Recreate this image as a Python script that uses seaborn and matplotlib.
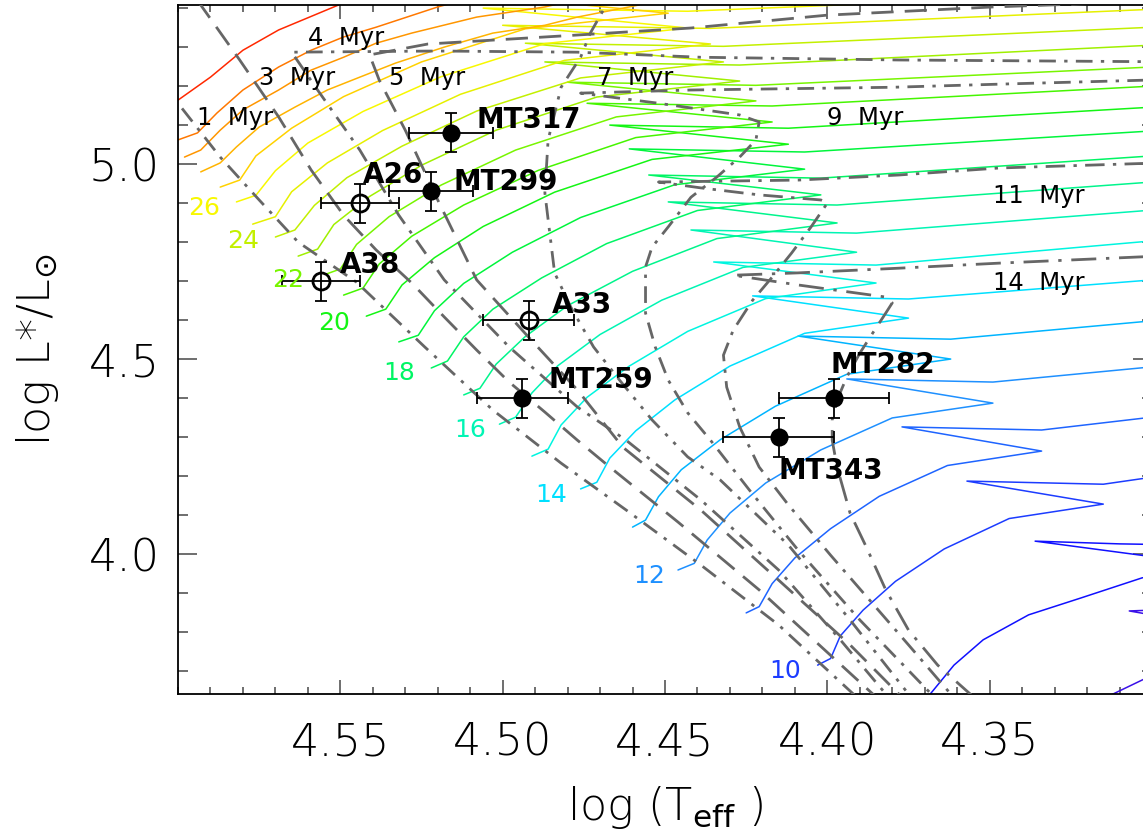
import matplotlib
matplotlib.use("Agg")
import matplotlib.pyplot as plt
from matplotlib.ticker import MultipleLocator, FixedLocator
import pandas as pd
import seaborn as sns

# ---- evolutionary tracks: log Teff / log L (ZAMS -> end of MS tip -> hook tip -> crossing)
trk08_t = [4.316, 4.303, 4.270, 4.307, 4.280]
trk08_l = [3.625, 3.677, 3.800, 3.854, 3.862]
trk09_t = [4.370, 4.368, 4.361, 4.352, 4.338, 4.322, 4.303, 4.270, 4.336, 4.310, 4.280]
trk09_l = [3.626, 3.644, 3.715, 3.780, 3.844, 3.887, 3.939, 3.960, 4.033, 4.026, 4.022]
trk10_t = [4.403, 4.399, 4.396, 4.389, 4.379, 4.364, 4.344, 4.315, 4.357, 4.315, 4.300]
trk10_l = [3.715, 3.732, 3.790, 3.856, 3.930, 4.013, 4.091, 4.128, 4.187, 4.179, 4.197]
trk11_t = [4.425, 4.421, 4.417, 4.410, 4.399, 4.384, 4.363, 4.334, 4.377, 4.334, 4.300]
trk11_l = [3.849, 3.865, 3.924, 3.990, 4.065, 4.148, 4.227, 4.264, 4.326, 4.318, 4.351]
trk12_t = [4.446, 4.441, 4.437, 4.430, 4.419, 4.402, 4.380, 4.349, 4.394, 4.349, 4.300]
trk12_l = [3.959, 3.976, 4.036, 4.105, 4.182, 4.267, 4.349, 4.387, 4.449, 4.441, 4.480]
trk13_t = [4.460, 4.456, 4.452, 4.445, 4.433, 4.416, 4.394, 4.362, 4.409, 4.362, 4.300]
trk13_l = [4.069, 4.087, 4.147, 4.216, 4.293, 4.379, 4.461, 4.500, 4.559, 4.551, 4.598]
trk14_t = [4.476, 4.471, 4.467, 4.459, 4.447, 4.430, 4.407, 4.375, 4.423, 4.375, 4.300]
trk14_l = [4.167, 4.184, 4.246, 4.316, 4.395, 4.482, 4.566, 4.605, 4.662, 4.654, 4.703]
trk15_t = [4.491, 4.486, 4.482, 4.474, 4.461, 4.443, 4.419, 4.385, 4.435, 4.385, 4.300]
trk15_l = [4.251, 4.269, 4.331, 4.402, 4.482, 4.571, 4.655, 4.695, 4.749, 4.741, 4.803]
trk16_t = [4.501, 4.496, 4.491, 4.483, 4.470, 4.451, 4.426, 4.391, 4.442, 4.391, 4.300]
trk16_l = [4.333, 4.351, 4.413, 4.483, 4.563, 4.651, 4.735, 4.774, 4.831, 4.823, 4.882]
trk17_t = [4.512, 4.507, 4.502, 4.493, 4.480, 4.460, 4.434, 4.397, 4.449, 4.397, 4.300]
trk17_l = [4.408, 4.425, 4.487, 4.558, 4.637, 4.725, 4.809, 4.849, 4.903, 4.895, 4.954]
trk18_t = [4.522, 4.517, 4.512, 4.503, 4.488, 4.468, 4.440, 4.402, 4.455, 4.402, 4.300]
trk18_l = [4.477, 4.495, 4.557, 4.628, 4.708, 4.796, 4.881, 4.921, 4.972, 4.964, 5.021]
trk19_t = [4.532, 4.526, 4.521, 4.512, 4.497, 4.476, 4.447, 4.407, 4.461, 4.407, 4.300]
trk19_l = [4.544, 4.561, 4.624, 4.694, 4.774, 4.863, 4.947, 4.987, 5.039, 5.031, 5.085]
trk20_t = [4.542, 4.536, 4.531, 4.521, 4.506, 4.484, 4.454, 4.412, 4.467, 4.412, 4.300]
trk20_l = [4.610, 4.628, 4.690, 4.760, 4.840, 4.928, 5.012, 5.051, 5.100, 5.092, 5.146]
trk21_t = [4.549, 4.543, 4.538, 4.528, 4.512, 4.489, 4.459, 4.417, 4.474, 4.417, 4.300]
trk21_l = [4.664, 4.682, 4.744, 4.815, 4.895, 4.984, 5.068, 5.108, 5.156, 5.149, 5.200]
trk22_t = [4.556, 4.550, 4.545, 4.535, 4.519, 4.496, 4.465, 4.422, 4.480, 4.422, 4.300]
trk22_l = [4.713, 4.731, 4.794, 4.865, 4.946, 5.036, 5.121, 5.162, 5.210, 5.202, 5.249]
trk23_t = [4.563, 4.557, 4.552, 4.541, 4.525, 4.502, 4.471, 4.427, 4.487, 4.427, 4.300]
trk23_l = [4.764, 4.782, 4.845, 4.917, 4.997, 5.087, 5.172, 5.213, 5.262, 5.254, 5.305]
trk24_t = [4.570, 4.564, 4.558, 4.548, 4.531, 4.508, 4.476, 4.432, 4.493, 4.432, 4.300]
trk24_l = [4.813, 4.831, 4.894, 4.965, 5.046, 5.136, 5.221, 5.262, 5.310, 5.302, 5.351]
trk25_t = [4.577, 4.570, 4.565, 4.554, 4.537, 4.513, 4.481, 4.436, 4.500, 4.436, 4.300]
trk25_l = [4.846, 4.865, 4.929, 5.003, 5.086, 5.179, 5.266, 5.308, 5.356, 5.348, 5.397]
trk26_t = [4.582, 4.576, 4.570, 4.560, 4.543, 4.519, 4.487, 4.443, 4.506, 4.443, 4.300]
trk26_l = [4.903, 4.920, 4.983, 5.054, 5.135, 5.224, 5.309, 5.349, 5.400, 5.392, 5.441]
trk28_t = [4.587, 4.581, 4.576, 4.565, 4.549, 4.525, 4.493, 4.449, 4.512, 4.449, 4.300]
trk28_l = [4.941, 4.959, 5.021, 5.092, 5.173, 5.262, 5.347, 5.387, 5.438, 5.430, 5.472]
trk30_t = [4.593, 4.587, 4.582, 4.575, 4.564, 4.554, 4.544, 4.533, 4.518, 4.503, 4.487, 4.477, 4.458, 4.516]
trk30_l = [4.980, 5.003, 5.044, 5.095, 5.146, 5.190, 5.223, 5.259, 5.300, 5.336, 5.356, 5.377, 5.408, 5.451]
trk32_t = [4.598, 4.593, 4.587, 4.580, 4.569, 4.559, 4.549, 4.539, 4.528, 4.508, 4.487, 4.464]
trk32_l = [5.018, 5.036, 5.087, 5.139, 5.190, 5.241, 5.274, 5.310, 5.336, 5.377, 5.403, 5.446]
trk35_t = [4.600, 4.594, 4.588, 4.580, 4.569, 4.559, 4.549, 4.539, 4.520, 4.495]
trk35_l = [5.062, 5.080, 5.131, 5.190, 5.249, 5.292, 5.326, 5.351, 5.403, 5.459]
trk40_t = [4.606, 4.600, 4.590, 4.580, 4.569, 4.552, 4.541]
trk40_l = [5.145, 5.164, 5.223, 5.292, 5.344, 5.403, 5.441]

track_colors = {8: "#3a10e8", 9: "#1010ff", 10: "#1c3cff", 11: "#1e64ff", 12: "#1e90ff",
                13: "#00b4ff", 14: "#00e0ff", 15: "#00f5e0", 16: "#00f5b4", 17: "#00f58c",
                18: "#00f564", 19: "#00f53c", 20: "#14f514", 21: "#46f500", 22: "#78f500",
                23: "#a0f000", 24: "#c3f000", 25: "#e6f000", 26: "#f8f800", 28: "#ffd200",
                30: "#ffb400", 32: "#ff9600", 35: "#ff7800", 40: "#ff2800"}

# mass labels at the ZAMS
mass_lab = [26, 24, 22, 20, 18, 16, 14, 12, 10]
mass_lab_t = [4.592, 4.580, 4.566, 4.552, 4.532, 4.510, 4.485, 4.455, 4.413]
mass_lab_l = [4.869, 4.785, 4.685, 4.574, 4.446, 4.300, 4.133, 3.926, 3.682]

# ---- isochrones
iso1_t = [4.606, 4.600, 4.587, 4.575, 4.563, 4.545, 4.524, 4.503, 4.482, 4.462, 4.439, 4.415, 4.392, 4.388]
iso1_l = [5.215, 5.156, 5.018, 4.908, 4.800, 4.697, 4.531, 4.369, 4.233, 4.113, 3.972, 3.818, 3.641, 3.600]
iso3_t = [4.595, 4.593, 4.581, 4.569, 4.559, 4.549, 4.539, 4.528, 4.518, 4.508, 4.498, 4.487, 4.477, 4.467, 4.446, 4.421, 4.386, 4.380]
iso3_l = [5.446, 5.408, 5.267, 5.121, 4.985, 4.869, 4.780, 4.695, 4.608, 4.523, 4.441, 4.364, 4.292, 4.223, 4.082, 3.908, 3.641, 3.600]
iso4_t = [4.378, 4.382, 4.396, 4.415, 4.439, 4.462, 4.477, 4.498, 4.518, 4.532, 4.544, 4.557, 4.565, 4.520, 4.477, 4.439, 4.378, 4.290]
iso4_l = [3.600, 3.641, 3.780, 3.959, 4.139, 4.292, 4.377, 4.531, 4.703, 4.869, 5.036, 5.190, 5.287, 5.290, 5.287, 5.274, 5.267, 5.262]
iso5_t = [4.374, 4.378, 4.393, 4.415, 4.439, 4.463, 4.477, 4.492, 4.508, 4.520, 4.530, 4.538, 4.541, 4.523, 4.477, 4.442, 4.400, 4.349, 4.290]
iso5_l = [3.600, 3.641, 3.767, 3.933, 4.113, 4.274, 4.421, 4.556, 4.703, 4.908, 5.087, 5.215, 5.280, 5.308, 5.331, 5.349, 5.382, 5.403, 5.420]
iso7_t = [4.371, 4.375, 4.393, 4.412, 4.433, 4.443, 4.454, 4.464, 4.472, 4.479, 4.484, 4.487, 4.486, 4.482, 4.476, 4.473, 4.469, 4.466]
iso7_l = [3.600, 3.641, 3.831, 4.023, 4.190, 4.249, 4.344, 4.446, 4.531, 4.633, 4.721, 4.926, 5.062, 5.197, 5.274, 5.336, 5.395, 5.433]
iso9_t = [4.290, 4.347, 4.380, 4.442, 4.476, 4.452, 4.427, 4.421, 4.422, 4.427, 4.434, 4.442, 4.449, 4.454,
          4.456, 4.456, 4.456, 4.453, 4.449, 4.443, 4.436, 4.424, 4.409, 4.390, 4.368, 4.364]
iso9_l = [5.218, 5.205, 5.197, 5.190, 5.182, 5.156, 5.126, 5.108, 5.062, 5.018, 4.967, 4.915, 4.839, 4.787,
          4.736, 4.703, 4.618, 4.531, 4.446, 4.362, 4.292, 4.164, 4.010, 3.831, 3.641, 3.600]
iso11_t = [4.290, 4.347, 4.378, 4.409, 4.452, 4.439, 4.421, 4.402, 4.400, 4.405, 4.411, 4.417, 4.423, 4.429,
           4.432, 4.431, 4.427, 4.421, 4.412, 4.399, 4.387, 4.375, 4.362, 4.358]
iso11_l = [5.005, 4.990, 4.972, 4.959, 4.954, 4.939, 4.921, 4.908, 4.900, 4.839, 4.772, 4.710, 4.651, 4.574,
           4.510, 4.428, 4.326, 4.223, 4.126, 3.997, 3.882, 3.767, 3.641, 3.600]
iso14_t = [4.290, 4.347, 4.378, 4.409, 4.429, 4.409, 4.382, 4.380, 4.382, 4.386, 4.390, 4.394, 4.397, 4.3985,
           4.3985, 4.397, 4.393, 4.388, 4.382, 4.375, 4.366, 4.356, 4.352]
iso14_l = [4.767, 4.746, 4.733, 4.721, 4.715, 4.690, 4.659, 4.644, 4.618, 4.567, 4.515, 4.454, 4.395, 4.344,
           4.292, 4.223, 4.105, 4.018, 3.908, 3.805, 3.715, 3.641, 3.600]

iso_ages = ["1 Myr", "3 Myr", "4 Myr", "5 Myr", "7 Myr", "9 Myr", "11 Myr", "14 Myr"]
iso_lab_t = [4.594, 4.575, 4.560, 4.535, 4.471, 4.400, 4.349, 4.349]
iso_lab_l = [5.100, 5.203, 5.305, 5.203, 5.203, 5.100, 4.900, 4.677]

# ---- stars
star_names = ["MT317", "MT299", "A26", "A38", "A33", "MT259", "MT282", "MT343"]
star_t = [4.516, 4.522, 4.544, 4.556, 4.492, 4.494, 4.398, 4.415]
star_l = [5.08, 4.93, 4.90, 4.70, 4.60, 4.40, 4.40, 4.30]
star_terr = [0.013, 0.013, 0.012, 0.012, 0.014, 0.014, 0.017, 0.017]
star_lerr = [0.05, 0.05, 0.05, 0.05, 0.05, 0.05, 0.05, 0.05]
star_open = [False, False, True, True, True, False, False, False]
name_t = [4.508, 4.515, 4.543, 4.550, 4.485, 4.486, 4.399, 4.415]
name_l = [5.092, 4.933, 4.951, 4.721, 4.618, 4.426, 4.464, 4.192]

xtick_vals = [4.55, 4.50, 4.45, 4.40, 4.35]
xtick_labels = ["4.55", "4.50", "4.45", "4.40", "4.35"]
ytick_vals = [4.0, 4.5, 5.0]
ytick_labels = ["4.0", "4.5", "5.0"]

# ---- build tables
tracks = {8: (trk08_t, trk08_l), 9: (trk09_t, trk09_l), 10: (trk10_t, trk10_l), 11: (trk11_t, trk11_l),
          12: (trk12_t, trk12_l), 13: (trk13_t, trk13_l), 14: (trk14_t, trk14_l), 15: (trk15_t, trk15_l),
          16: (trk16_t, trk16_l), 17: (trk17_t, trk17_l), 18: (trk18_t, trk18_l), 19: (trk19_t, trk19_l),
          20: (trk20_t, trk20_l), 21: (trk21_t, trk21_l), 22: (trk22_t, trk22_l), 23: (trk23_t, trk23_l),
          24: (trk24_t, trk24_l), 25: (trk25_t, trk25_l), 26: (trk26_t, trk26_l), 28: (trk28_t, trk28_l),
          30: (trk30_t, trk30_l), 32: (trk32_t, trk32_l), 35: (trk35_t, trk35_l), 40: (trk40_t, trk40_l)}
df_trk = pd.concat([pd.DataFrame({"logt": t, "logl": l, "mass": m}) for m, (t, l) in tracks.items()],
                   ignore_index=True)

isos = [(iso1_t, iso1_l), (iso3_t, iso3_l), (iso4_t, iso4_l), (iso5_t, iso5_l),
        (iso7_t, iso7_l), (iso9_t, iso9_l), (iso11_t, iso11_l), (iso14_t, iso14_l)]
df_iso = pd.concat([pd.DataFrame({"logt": t, "logl": l, "age": a}) for a, (t, l) in zip(iso_ages, isos)],
                   ignore_index=True)
iso_dashes = {"1 Myr": (6, 3, 1.2, 3), "3 Myr": (8, 4), "4 Myr": (6, 3, 1.2, 3), "5 Myr": (8, 4),
              "7 Myr": (6, 3, 1.2, 3, 1.2, 3), "9 Myr": (6, 3, 1.2, 3), "11 Myr": (7, 3, 1.2, 3),
              "14 Myr": (9, 3.5, 1.2, 3.5)}

df_star = pd.DataFrame({"logt": star_t, "logl": star_l, "open": star_open})

# ---- plot
sns.set_theme(style="ticks")
plt.rcParams["font.family"] = ["DejaVu Sans"]
plt.rcParams["mathtext.fontset"] = "dejavusans"
plt.rcParams["text.color"] = "black"
plt.rcParams["axes.labelcolor"] = "black"

fig = plt.figure(figsize=(11.43, 8.36), dpi=100)
ax = fig.add_axes([178 / 1143, 142 / 836, 974 / 1143, 689 / 836])

sns.lineplot(data=df_trk, x="logt", y="logl", hue="mass", units="mass", estimator=None, sort=False,
             palette=track_colors, lw=1.1, legend=False, ax=ax, zorder=2)
sns.lineplot(data=df_iso, x="logt", y="logl", style="age", units="age", estimator=None, sort=False,
             dashes=iso_dashes, color="#666666", lw=2.0, legend=False, ax=ax, zorder=3)

# stars: open circles white-filled below the error bars, filled circles on top
sns.scatterplot(data=df_star[df_star["open"]], x="logt", y="logl", s=150, color="white",
                edgecolor="black", linewidth=2.0, ax=ax, zorder=4, legend=False)
ax.errorbar(star_t, star_l, xerr=star_terr, yerr=star_lerr, fmt="none", ecolor="black",
            elinewidth=1.3, capsize=4.5, capthick=1.3, zorder=5)
sns.scatterplot(data=df_star[~df_star["open"]], x="logt", y="logl", s=170, color="black",
                edgecolor="black", linewidth=0, ax=ax, zorder=6, legend=False)

for name, t, l in zip(star_names, name_t, name_l):
    ax.text(t, l, name, fontsize=20, fontweight="bold", color="black", ha="left", va="baseline", zorder=7)
for m, t, l in zip(mass_lab, mass_lab_t, mass_lab_l):
    ax.text(t, l, str(m), fontsize=18, color=track_colors[m], ha="center", va="baseline", zorder=7)
for a, t, l in zip(iso_ages, iso_lab_t, iso_lab_l):
    ax.text(t, l, a.replace(" ", "  "), fontsize=17.5, color="black", ha="left", va="baseline", zorder=7)

ax.set_xlim(4.60, 4.30)
ax.set_ylim(3.641, 5.408)
ax.xaxis.set_major_locator(FixedLocator(xtick_vals))
ax.set_xticklabels(xtick_labels, fontsize=32, fontweight="light")
ax.xaxis.set_minor_locator(MultipleLocator(0.01))
ax.yaxis.set_major_locator(FixedLocator(ytick_vals))
ax.set_yticklabels(ytick_labels, fontsize=32, fontweight="light")
ax.yaxis.set_minor_locator(MultipleLocator(0.1))
ax.tick_params(which="both", direction="in", top=True, right=True, color="#555555",
               labelcolor="black", width=1.2)
ax.tick_params(axis="x", which="major", length=10, pad=20)
ax.tick_params(axis="x", which="minor", length=5)
ax.tick_params(axis="y", which="major", length=14, pad=13)
ax.tick_params(axis="y", which="minor", length=7)
for sp in ax.spines.values():
    sp.set_color("black")
    sp.set_linewidth(1.3)

ax.set_xlabel(r"log (T$_{\rm eff}$ )", fontsize=32, fontweight="light", color="black", labelpad=14)
ax.set_ylabel(r"log L*/L$_{\odot}$", fontsize=32, fontweight="light", color="black", labelpad=20)

fig.savefig("out.png", dpi=100)
